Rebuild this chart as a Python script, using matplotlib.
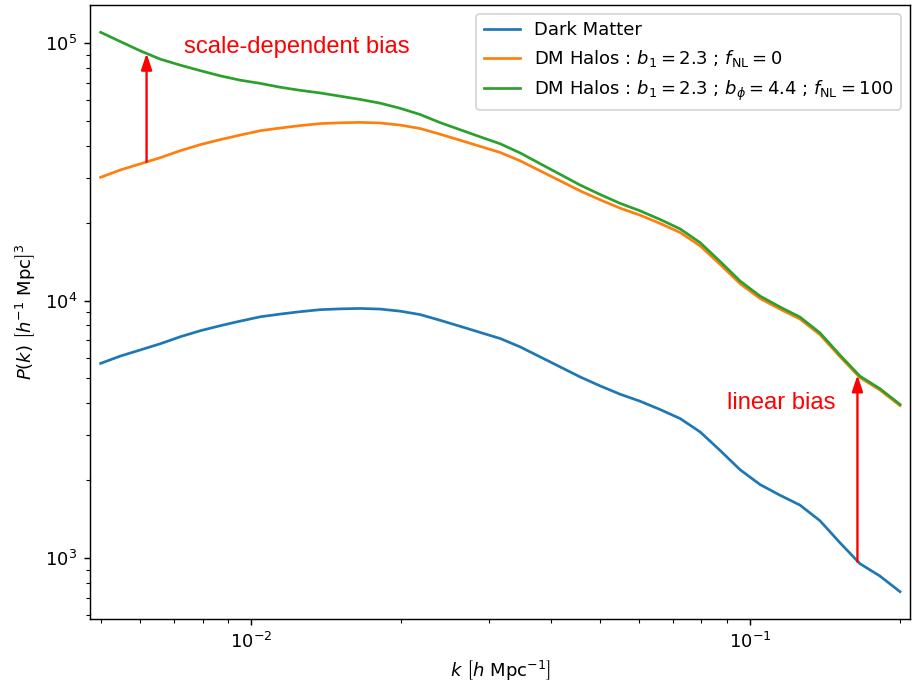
import matplotlib
matplotlib.use("Agg")
import matplotlib.pyplot as plt

# wavenumbers k [h/Mpc] (log-spaced reading positions)
k = [0.005, 0.005483, 0.006012, 0.006592, 0.007228, 0.007926, 0.008690, 0.009529,
     0.010449, 0.011457, 0.012563, 0.013775, 0.015105, 0.016563, 0.018161, 0.019914,
     0.021836, 0.023943, 0.026254, 0.028788, 0.031623, 0.034676, 0.038023, 0.041693,
     0.045717, 0.050149, 0.055000, 0.060306, 0.066129, 0.072513, 0.079525, 0.087192,
     0.095609, 0.10484, 0.11496, 0.12605, 0.13823, 0.15157, 0.16621, 0.18227, 0.2]

p_dm = [5699, 6090, 6432, 6799, 7239, 7638, 7988, 8324,
        8650, 8862, 9054, 9218, 9285, 9318, 9268, 9096,
        8823, 8384, 7944, 7522, 7116, 6601, 6036, 5519,
        5046, 4656, 4322, 4059, 3769, 3477, 3084, 2613,
        2199, 1926, 1750, 1602, 1393, 1144, 948.6, 849, 738]

p_halo = [30150, 32220, 34030, 35970, 38290, 40410, 42260, 44030,
          45760, 46880, 47900, 48760, 49120, 49290, 49030, 48120,
          46670, 44350, 42020, 39790, 37640, 34920, 31930, 29200,
          26690, 24630, 22860, 21470, 19940, 18390, 16310, 13820,
          11630, 10190, 9258, 8475, 7369, 6052, 5018, 4491, 3904]

p_halo_fnl = [110450, 101510, 93430, 86750, 82240, 78300, 74750, 71910,
              69880, 67510, 65670, 64150, 62320, 60540, 58550, 55930,
              52900, 49210, 46180, 43340, 40680, 37470, 34030, 30940,
              28120, 25830, 23860, 22320, 20660, 18990, 16790, 14190,
              11910, 10410, 9440, 8625, 7488, 6140, 5083, 4544, 3946]

labels = ["Dark Matter",
          r"DM Halos : $b_1 = 2.3$ ; $f_{\rm NL} = 0$",
          r"DM Halos : $b_1 = 2.3$ ; $b_\phi = 4.4$ ; $f_{\rm NL} = 100$"]

# annotations: (k, P_start, P_end) and (k, P, text)
arrow_sd = (0.00618, 34650, 91440)
arrow_lin = (0.1643, 965, 5132)
text_sd = (0.00734, 91690, "scale-dependent bias")
text_lin = (0.0898, 3776, "linear bias")

DPI = 130
fig = plt.figure(figsize=(915 / DPI, 682 / DPI), dpi=DPI)
ax = fig.add_axes([90 / 915, 63 / 682, 820 / 915, 614 / 682])

ax.loglog(k, p_dm, color="#1f77b4", lw=1.5, label=labels[0])
ax.loglog(k, p_halo, color="#ff7f0e", lw=1.5, label=labels[1])
ax.loglog(k, p_halo_fnl, color="#2ca02c", lw=1.5, label=labels[2])

ax.set_xlim(0.00476, 0.2094)
ax.set_ylim(578, 1.41e5)

for (ka, p0, p1) in (arrow_sd, arrow_lin):
    ax.annotate("", xy=(ka, p1), xytext=(ka, p0),
                arrowprops=dict(arrowstyle="-|>,head_length=0.75,head_width=0.25",
                                color="red", lw=1.3, shrinkA=0, shrinkB=0,
                                mutation_scale=10))

for (kx, py, s) in (text_sd, text_lin):
    ax.text(kx, py, s, color="red", fontsize=13.2, family="Liberation Sans",
            ha="left", va="baseline")

ax.set_xlabel(r"$k\ \left[h\ \mathrm{Mpc}^{-1}\right]$")
ax.set_ylabel(r"$P(k)\ \left[h^{-1}\ \mathrm{Mpc}\right]^3$")
ax.legend(loc="upper right")

fig.savefig("out.png", dpi=DPI)
